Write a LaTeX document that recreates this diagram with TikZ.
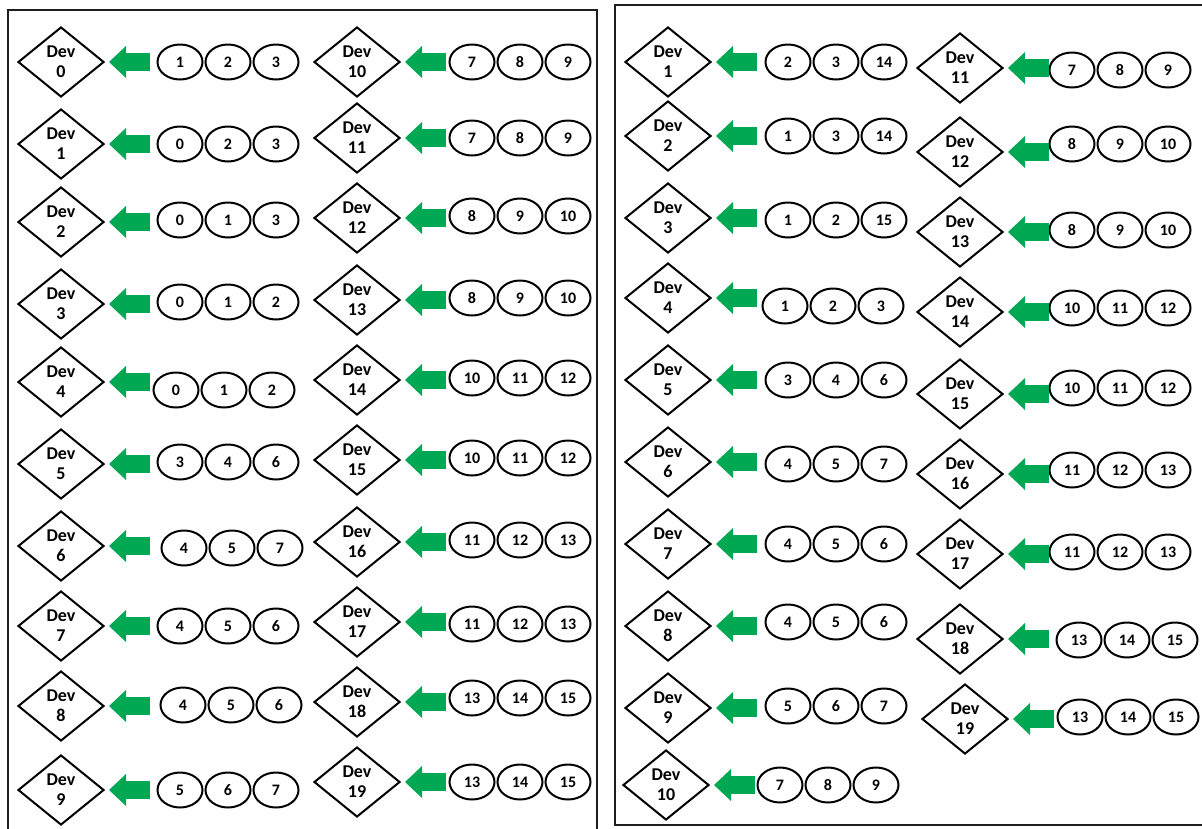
\documentclass[tikz,border=0pt]{standalone}
\usepackage{fontspec}
\setmainfont{Carlito}
\usetikzlibrary{shapes.geometric,arrows.meta,positioning}
\definecolor{feedgreen}{RGB}{0,168,84}
\definecolor{framegrey}{RGB}{30,30,30}

\begin{document}
\begin{tikzpicture}[x=1pt,y=-1pt,
  dev/.style={draw,shape=diamond,line width=2pt,minimum width=86pt,minimum height=70pt,
              inner sep=0pt,align=center,font=\fontsize{18}{20}\selectfont\bfseries},
  slot/.style={draw,ellipse,line width=2pt,minimum width=45pt,minimum height=35pt,
               inner sep=0pt,font=\fontsize{16}{18}\selectfont\bfseries},
  feed/.style={feedgreen,line width=18pt,-{Triangle[length=17pt,width=32pt,line width=0pt]}},
  frame/.style={line width=2.5pt,framegrey}]
\useasboundingbox (0,0) rectangle (1202,828);
\clip (0,0) rectangle (1202,828);
% ---------- left panel: devices 0 to 19 ----------
\begin{scope}
\draw[frame] (8,10) rectangle (597,850);
\foreach \x/\y/\d/\ex/\ey/\a/\b/\c in {61/62/0/180/62/1/2/3, 61/144/1/180/144/0/2/3,
    61/222/2/180/220/0/1/3, 61/304/3/180/302/0/1/2, 61/382/4/176/390/0/1/2,
    61/464/5/180/462/3/4/6, 61/546/6/184/548/4/5/7, 61/626/7/180/626/4/5/6,
    61/706/8/183/705/4/5/6, 61/790/9/180/790/5/6/7,
    357/62/10/472/62/7/8/9, 357/138/11/472/138/7/8/9, 357/218/12/472/216/8/9/10,
    357/300/13/472/298/8/9/10, 357/380/14/472/378/10/11/12, 357/460/15/472/458/10/11/12,
    357/542/16/472/540/11/12/13, 357/622/17/472/624/11/12/13,
    357/702/18/472/698/13/14/15, 357/782/19/472/782/13/14/15}{
  \node[dev] (L\d) at (\x,\y) {Dev\\\d};
  \node[slot] (L\d-a) at (\ex,\ey) {\a};
  \node[slot,right=1pt of L\d-a] (L\d-b) {\b};
  \node[slot,right=1pt of L\d-b] (L\d-c) {\c};
  \draw[feed] ([xshift=45pt]L\d.east) -- ([xshift=4pt]L\d.east);
}
\end{scope}
% ---------- right panel: devices 1 to 19 ----------
\begin{scope}
\draw[frame] (615,5) rectangle (1215,825);
\foreach \x/\y/\d/\ex/\ey/\a/\b/\c in {668/62/1/788/62/2/3/14, 668/136/2/788/136/1/3/14,
    668/218/3/788/220/1/2/15, 668/298/4/785/306/1/2/3, 668/380/5/788/380/3/4/6,
    668/462/6/788/464/4/5/7, 668/544/7/788/544/4/5/6, 668/626/8/788/622/4/5/6,
    668/708/9/788/706/5/6/7, 666/785/10/780/785/7/8/9,
    960/68/11/1072/70/7/8/9, 960/152/12/1072/144/8/9/10, 960/232/13/1072/230/8/9/10,
    960/312/14/1072/308/10/11/12, 960/394/15/1072/388/10/11/12,
    960/474/16/1072/470/11/12/13, 960/554/17/1072/552/11/12/13,
    960/639/18/1079/640/13/14/15, 965/719/19/1080/717/13/14/15}{
  \node[dev] (R\d) at (\x,\y) {Dev\\\d};
  \node[slot] (R\d-a) at (\ex,\ey) {\a};
  \node[slot,right=1pt of R\d-a] (R\d-b) {\b};
  \node[slot,right=1pt of R\d-b] (R\d-c) {\c};
  \draw[feed] ([xshift=45pt]R\d.east) -- ([xshift=4pt]R\d.east);
}
\end{scope}
\end{tikzpicture}
\end{document}
